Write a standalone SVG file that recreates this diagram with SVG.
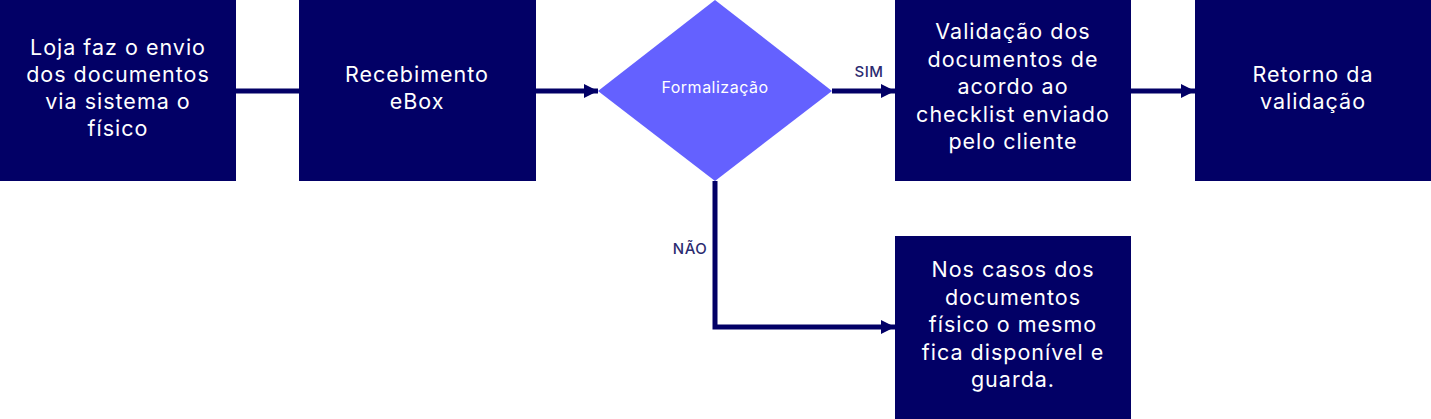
<svg xmlns="http://www.w3.org/2000/svg" width="1431" height="419" viewBox="0 0 1431 419">
<style>
.box{fill:#020066}
.t{fill:#ffffff;font-family:Inter,"Noto Sans",sans-serif;font-size:21.5px;letter-spacing:1px;text-anchor:middle}
.lbl{fill:#2b2b70;font-family:Inter,"Noto Sans",sans-serif;font-size:15px;font-weight:500;letter-spacing:0.5px;text-anchor:middle}
.c{stroke:#020066;stroke-width:5;fill:none}
</style>
<defs>
<marker id="ah" viewBox="0 0 14 14" refX="14" refY="7" markerWidth="14" markerHeight="14" markerUnits="userSpaceOnUse" orient="auto">
<path d="M0,0 L14,7 L0,14 Z" fill="#020066"/>
</marker>
</defs>
<g id="connectors">
<line class="c" x1="236" y1="91" x2="299" y2="91"/>
<line class="c" x1="536" y1="91" x2="598" y2="91" marker-end="url(#ah)"/>
<line class="c" x1="832" y1="91" x2="895" y2="91" marker-end="url(#ah)"/>
<line class="c" x1="1131" y1="91" x2="1195" y2="91" marker-end="url(#ah)"/>
<polyline class="c" points="715,181 715,327 895,327" marker-end="url(#ah)"/>
<text class="lbl" x="869" y="77">SIM</text>
<text class="lbl" x="690" y="254">NÃO</text>
</g>
<g id="n1">
<rect class="box" x="0" y="0" width="236" height="181"/>
<text class="t"><tspan x="118" y="55">Loja faz o envio</tspan><tspan x="118" y="82">dos documentos</tspan><tspan x="118" y="109">via sistema o</tspan><tspan x="118" y="136">físico</tspan></text>
</g>
<g id="n2">
<rect class="box" x="299" y="0" width="237" height="181"/>
<text class="t"><tspan x="417" y="82">Recebimento</tspan><tspan x="417" y="109">eBox</tspan></text>
</g>
<g id="n3">
<polygon points="715,0 832,91 715,181 598,91" fill="#6461ff"/>
<text x="715" y="93" fill="#ffffff" font-family="Inter,'Noto Sans',sans-serif" font-size="16" letter-spacing="0.5" text-anchor="middle">Formalização</text>
</g>
<g id="n4">
<rect class="box" x="895" y="0" width="236" height="181"/>
<text class="t"><tspan x="1013" y="39">Validação dos</tspan><tspan x="1013" y="66.5">documentos de</tspan><tspan x="1013" y="94">acordo ao</tspan><tspan x="1013" y="121.5">checklist enviado</tspan><tspan x="1013" y="149">pelo cliente</tspan></text>
</g>
<g id="n5">
<rect class="box" x="1195" y="0" width="236" height="181"/>
<text class="t"><tspan x="1313" y="82">Retorno da</tspan><tspan x="1313" y="109">validação</tspan></text>
</g>
<g id="n6">
<rect class="box" x="895" y="236" width="236" height="183"/>
<text class="t"><tspan x="1013" y="277">Nos casos dos</tspan><tspan x="1013" y="304.5">documentos</tspan><tspan x="1013" y="332">físico o mesmo</tspan><tspan x="1013" y="359.5">fica disponível e</tspan><tspan x="1013" y="387">guarda.</tspan></text>
</g>
</svg>
